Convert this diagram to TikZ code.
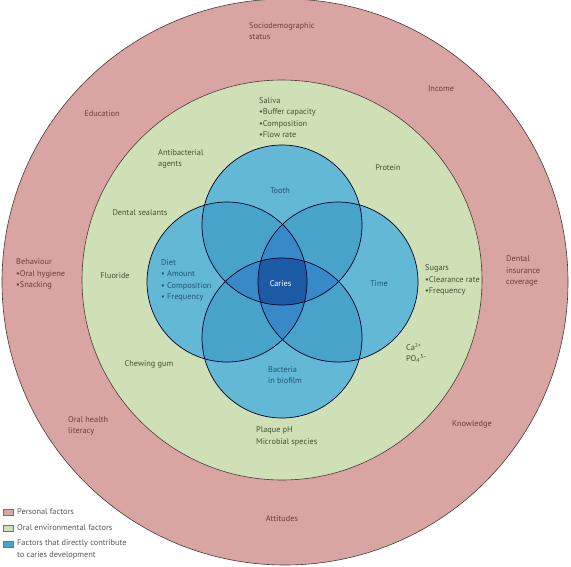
\documentclass[tikz,border=0pt]{standalone}
\usepackage{fontspec}
\setmainfont{PT Sans}
\definecolor{pinkf}{HTML}{D9A5A3}
\definecolor{greenf}{HTML}{CFDFB6}
\definecolor{blue1}{HTML}{62B8D5}
\definecolor{blue2}{HTML}{48A3CA}
\definecolor{blue3}{HTML}{3889C8}
\definecolor{blue4}{HTML}{1D5AA6}
\definecolor{pinkt}{HTML}{6A3E3E}
\definecolor{greent}{HTML}{465232}
\definecolor{bluet}{HTML}{225675}
\definecolor{legt}{HTML}{555555}
\definecolor{ring}{HTML}{4A3A3A}
\tikzset{
  lbl/.style={inner sep=0pt, font=\fontsize{8.3}{11.5}\selectfont},
  ptxt/.style={lbl, text=pinkt, align=left},
  gtxt/.style={lbl, text=greent, align=left},
  btxt/.style={lbl, text=bluet, align=left},
  legbox/.style={draw=black!55, line width=0.4pt},
}
\begin{document}
\begin{tikzpicture}[x=1pt, y=-1pt]
\useasboundingbox (0,0) rectangle (571,566);
\fill[white] (0,0) rectangle (571,566);
% rings
\filldraw[fill=pinkf, draw=ring, line width=0.6pt] (285,282) circle (283pt);
\filldraw[fill=greenf, draw=ring, line width=0.6pt] (282,280) circle (200pt);
% venn centres
\coordinate (T) at (282,225);
\coordinate (L) at (227,282);
\coordinate (R) at (338,282);
\coordinate (B) at (282,338);
\def\rr{80pt}
\foreach \c in {T,L,R,B} \fill[blue1] (\c) circle (\rr);
% pairs
\foreach \a/\b in {T/L,T/R,T/B,L/R,L/B,R/B}{
  \begin{scope}\clip (\a) circle (\rr); \fill[blue2] (\b) circle (\rr);\end{scope}
}
% triples
\foreach \a/\b/\c in {T/L/R,T/L/B,T/R/B,L/R/B}{
  \begin{scope}\clip (\a) circle (\rr); \clip (\b) circle (\rr); \fill[blue3] (\c) circle (\rr);\end{scope}
}
% quad
\begin{scope}\clip (T) circle (\rr); \clip (L) circle (\rr); \clip (R) circle (\rr); \fill[blue4] (B) circle (\rr);\end{scope}
\foreach \c in {T,L,R,B} \draw[draw=black!85!blue, line width=0.7pt] (\c) circle (\rr);

% personal factors
\node[ptxt, anchor=west] (socio) at (249,31) {Sociodemographic\\status};
\node[ptxt] (educ) at (102,114) {Education};
\node[ptxt] (income) at (441,89) {Income};
\node[ptxt, anchor=west] (behav) at (16,274) {Behaviour\\•Oral hygiene\\•Snacking};
\node[ptxt, anchor=west] (insur) at (506,271) {Dental\\insurance\\coverage};
\node[ptxt, anchor=west] (literacy) at (68,426) {Oral health\\literacy};
\node[ptxt] (knowl) at (472,424) {Knowledge};
\node[ptxt] (attit) at (282,519) {Attitudes};

% oral environmental factors
\node[gtxt, anchor=west] (saliva) at (259,117.5) {Saliva\\•Buffer capacity\\•Composition\\•Flow rate};
\node[gtxt, anchor=west] (antib) at (158,159) {Antibacterial\\agents};
\node[gtxt] (protein) at (388,168) {Protein};
\node[gtxt] (sealant) at (140,213) {Dental sealants};
\node[gtxt] (fluor) at (115,276) {Fluoride};
\node[gtxt, anchor=west] (sugars) at (425,280) {Sugars\\•Clearance rate\\•Frequency};
\node[gtxt, anchor=west] (ions) at (406,353) {Ca\textsuperscript{2+}\\PO\textsubscript{4}\textsuperscript{3–}};
\node[gtxt] (gum) at (149,364) {Chewing gum};
\node[gtxt, anchor=west] (plaque) at (256,436.5) {Plaque pH\\Microbial species};

% direct factors
\node[btxt] (tooth) at (280,191) {Tooth};
\node[btxt, anchor=west] (diet) at (161,280.5) {Diet\\• Amount\\• Composition\\• Frequency};
\node[btxt] (time) at (379,284) {Time};
\node[btxt, anchor=west] (bact) at (268,375) {Bacteria\\in biofilm};
\node[lbl, text=white] (caries) at (280.5,284) {Caries};

% legend
\draw[legbox, fill=pinkf] (3,509) rectangle (13,515);
\draw[legbox, fill=greenf] (3,525) rectangle (13,531);
\draw[legbox, fill=blue2] (3,541) rectangle (13,547);
\node[lbl, text=legt, anchor=west] (leg1) at (17,512) {Personal factors};
\node[lbl, text=legt, anchor=west] (leg2) at (17,528) {Oral environmental factors};
\node[lbl, text=legt, anchor=west, align=left] (leg3) at (17,549.5) {Factors that directly contribute\\to caries development};
\end{tikzpicture}
\end{document}
